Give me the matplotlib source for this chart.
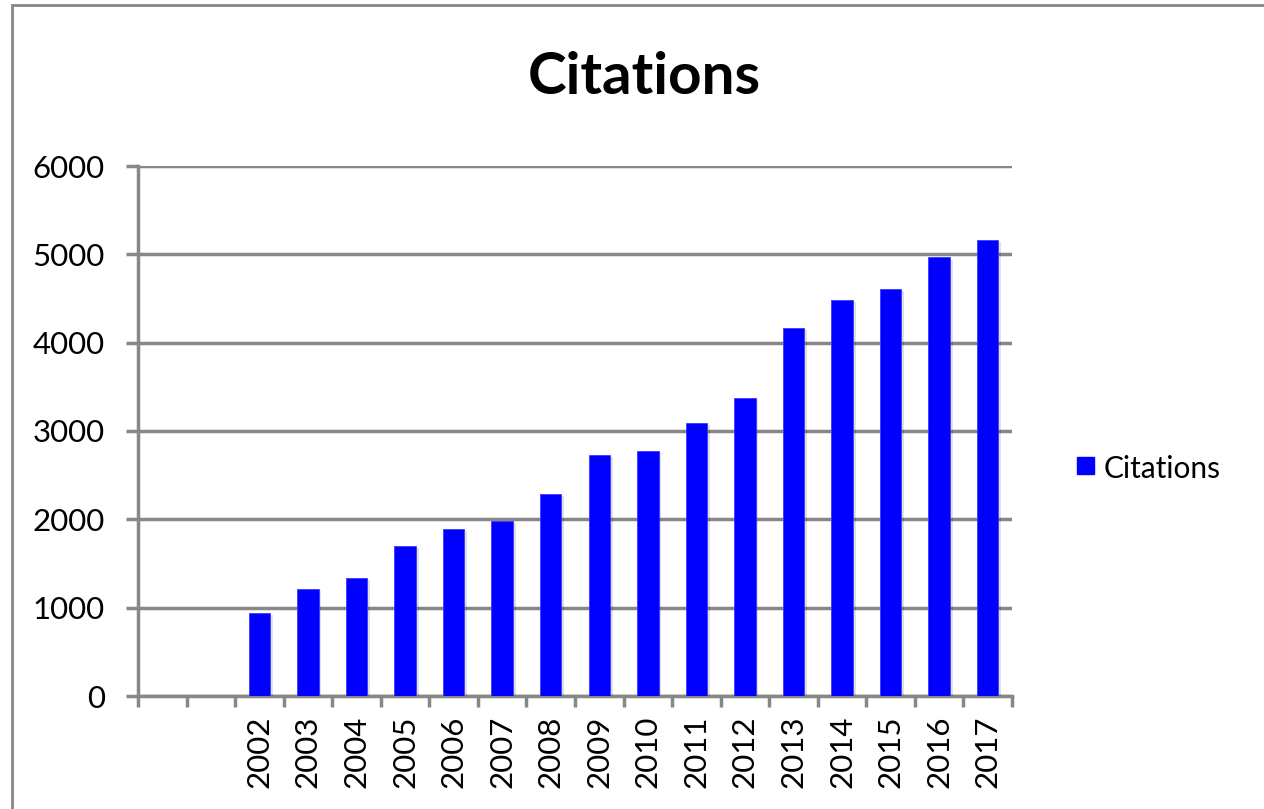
import matplotlib
matplotlib.use("Agg")
import matplotlib.pyplot as plt
from matplotlib.patches import Rectangle
import matplotlib.patheffects as pe
import numpy as np

years = ["2002", "2003", "2004", "2005", "2006", "2007", "2008", "2009",
         "2010", "2011", "2012", "2013", "2014", "2015", "2016", "2017"]
citations = [938, 1211, 1336, 1695, 1891, 1982, 2290, 2730,
             2770, 3090, 3375, 4165, 4485, 4605, 4965, 5165]
blank_slots = 2
yticks = [0, 1000, 2000, 3000, 4000, 5000, 6000]

plt.rcParams['font.family'] = ['Lato', 'DejaVu Sans']

W, H = 1264, 809
fig = plt.figure(figsize=(W / 100, H / 100), dpi=100)
ax = fig.add_axes([138 / W, 1 - 696 / H, (1012 - 138) / W, (696 - 166) / H])

grey = "#878787"
blue = "#0000FF"

nslots = blank_slots + len(years)
x = np.arange(len(years)) + blank_slots + 0.5
bars = ax.bar(x, citations, width=0.44, color=blue, zorder=3,
              edgecolor="#3a3aff", linewidth=0.6)
for b in bars:
    b.set_path_effects([pe.SimplePatchShadow(offset=(2, -1.5), shadow_rgbFace="#000000", alpha=0.12), pe.Normal()])

ax.set_xlim(0, nslots)
ax.set_ylim(0, 6000)
ax.set_yticks(yticks)
ax.set_yticklabels([str(v) for v in yticks], fontsize=22.5)
ax.yaxis.grid(True, color=grey, linewidth=2.5, zorder=0)
ax.set_axisbelow(True)

ax.set_xticks(np.arange(nslots + 1))
ax.set_xticklabels([])
ax.set_xticks(x, minor=True)
ax.set_xticklabels(years, minor=True, rotation=90, fontsize=22.5)
ax.tick_params(axis="x", which="minor", length=0, pad=14)
ax.tick_params(axis="x", which="major", length=8, width=2.5, color=grey, direction="out")
ax.tick_params(axis="y", length=9, width=2.5, color=grey, direction="out", pad=15)

for s in ["top", "right"]:
    ax.spines[s].set_visible(False)
for s in ["left", "bottom"]:
    ax.spines[s].set_color(grey)
    ax.spines[s].set_linewidth(2.5)

fig.text(644 / W, 1 - 77 / H, "Citations", ha="center", va="center",
         fontsize=42, fontweight="bold")

# legend
fig.patches.append(Rectangle((1077 / W, 1 - 474 / H), 17 / W, 17 / H,
                             transform=fig.transFigure, color=blue))
fig.text(1104 / W, 1 - 469 / H, "Citations", ha="left", va="center", fontsize=21.5)

# outer border
fig.patches.append(Rectangle((12 / W, -10 / H), (W + 20) / W, (H - 5 + 10) / H,
                             transform=fig.transFigure, fill=False,
                             edgecolor=grey, linewidth=2))

fig.savefig("out.png", dpi=100)
